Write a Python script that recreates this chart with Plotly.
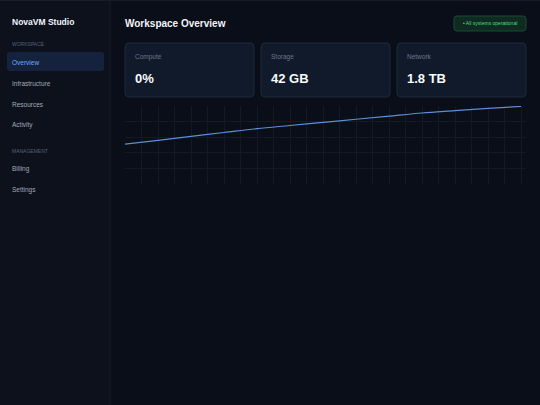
import plotly.graph_objects as go

x_vals = list(range(13))
y_vals = [51, 56, 61, 66, 71, 75, 79, 83, 87, 91, 94, 97, 99.5]
nav_items = ["Overview", "Infrastructure", "Resources", "Activity", "Billing", "Settings"]
nav_y = [62, 83, 104, 125, 169, 190]
sections = ["WORKSPACE", "MANAGEMENT"]
section_y = [44, 151]
card_labels = ["Compute", "Storage", "Network"]
card_values = ["0%", "42 GB", "1.8 TB"]
card_x = [125, 261, 397]

W, H = 540, 405
def px(x): return x / W
def py(y): return 1 - y / H

def rrect(x0, y0, x1, y1, r, fill, line):
    p = (f"M {px(x0+r)} {py(y0)} L {px(x1-r)} {py(y0)} Q {px(x1)} {py(y0)} {px(x1)} {py(y0+r)} "
         f"L {px(x1)} {py(y1-r)} Q {px(x1)} {py(y1)} {px(x1-r)} {py(y1)} L {px(x0+r)} {py(y1)} "
         f"Q {px(x0)} {py(y1)} {px(x0)} {py(y1-r)} L {px(x0)} {py(y0+r)} Q {px(x0)} {py(y0)} {px(x0+r)} {py(y0)} Z")
    return dict(type="path", path=p, xref="paper", yref="paper", fillcolor=fill,
                line=dict(color=line, width=1 if line else 0), layer="below")

FONT = "Liberation Sans, Arial, sans-serif"
fig = go.Figure()
fig.add_trace(go.Scatter(x=x_vals, y=y_vals, mode="lines", line=dict(color="#5b8fd6", width=1.2, shape="spline"),
                         hoverinfo="skip", showlegend=False))

shapes = []
annotations = []
shapes.append(dict(type="rect", xref="paper", yref="paper", x0=0, x1=px(110), y0=0, y1=1,
                   fillcolor="#0c111c", line=dict(width=0), layer="below"))
shapes.append(dict(type="line", xref="paper", yref="paper", x0=px(110), x1=px(110), y0=0, y1=1,
                   line=dict(color="#161d2b", width=1), layer="below"))
shapes.append(dict(type="line", xref="paper", yref="paper", x0=0, x1=1, y0=py(0.5), y1=py(0.5),
                   line=dict(color="#161d2b", width=1), layer="below"))
shapes.append(rrect(7, 52, 104, 71, 3, "#15223d", None))
annotations.append(dict(text="<b>NovaVM Studio</b>", x=px(10), y=py(22), xref="paper", yref="paper",
                        xanchor="left", yanchor="middle", showarrow=False, font=dict(size=8.5, color="#f1f5f9", family=FONT)))
for s, y in zip(sections, section_y):
    annotations.append(dict(text=s, x=px(10), y=py(y), xref="paper", yref="paper", xanchor="left", yanchor="middle",
                            showarrow=False, font=dict(size=5, color="#56607a", family=FONT)))
for i, (n, y) in enumerate(zip(nav_items, nav_y)):
    annotations.append(dict(text=n, x=px(10), y=py(y), xref="paper", yref="paper", xanchor="left", yanchor="middle",
                            showarrow=False, font=dict(size=6.5, color="#6ea8fe" if i == 0 else "#a0a9b8", family=FONT)))
annotations.append(dict(text="<b>Workspace Overview</b>", x=px(123), y=py(23), xref="paper", yref="paper",
                        xanchor="left", yanchor="middle", showarrow=False, font=dict(size=10, color="#f1f5f9", family=FONT)))
shapes.append(rrect(454, 16, 526, 31, 3, "#0f2a20", "#1a4a33"))
annotations.append(dict(text="• All systems operational", x=px(490), y=py(23.5), xref="paper", yref="paper",
                        xanchor="center", yanchor="middle", showarrow=False, font=dict(size=5, color="#4ade80", family=FONT)))
for lab, val, cx in zip(card_labels, card_values, card_x):
    shapes.append(rrect(cx, 43, cx + 129, 97, 4, "#111a2a", "#1e293b"))
    annotations.append(dict(text=lab, x=px(cx + 8), y=py(57), xref="paper", yref="paper", xanchor="left", yanchor="middle",
                            showarrow=False, font=dict(size=6.5, color="#6b7689", family=FONT)))
    annotations.append(dict(text="<b>" + val + "</b>", x=px(cx + 8), y=py(78), xref="paper", yref="paper", xanchor="left",
                            yanchor="middle", showarrow=False, font=dict(size=13, color="#f8fafc", family=FONT)))

fig.update_layout(
    width=W, height=H, margin=dict(l=0, r=0, t=0, b=0),
    paper_bgcolor="#0a0e18", plot_bgcolor="#0a0e18",
    shapes=shapes, annotations=annotations, showlegend=False,
    xaxis=dict(domain=[px(125), px(526)], range=[0, 12.15], dtick=0.5, showgrid=True, gridcolor="#121927",
               gridwidth=1, zeroline=False, showticklabels=False, ticks="", fixedrange=True),
    yaxis=dict(domain=[py(184), py(106)], range=[0, 100], dtick=20, showgrid=True, gridcolor="#121927",
               gridwidth=1, zeroline=False, showticklabels=False, ticks="", fixedrange=True),
)
fig.write_html("out.html", config={"displayModeBar": False},
               post_script="document.body.style.margin='0';document.body.style.background='#0a0e18';")
